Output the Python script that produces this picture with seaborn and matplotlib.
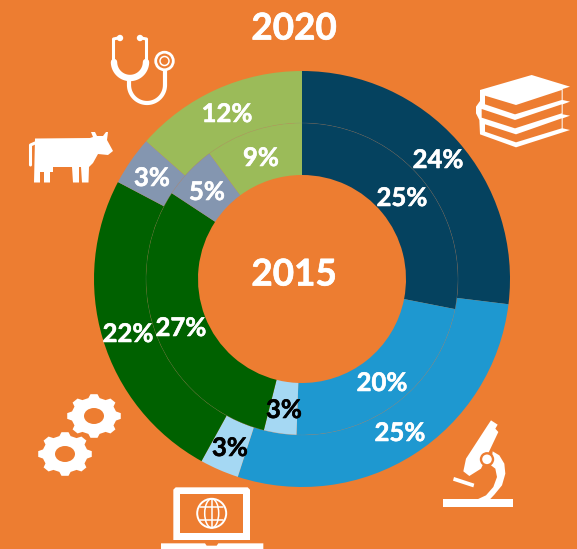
import numpy as np
import matplotlib
matplotlib.use('Agg')
import matplotlib.pyplot as plt
import matplotlib.patheffects as pe
from matplotlib.patches import Circle, Ellipse, Polygon
import seaborn as sns

# data
sectors = ['Education', 'Science', 'Internet', 'Industry', 'Agriculture', 'Health']
values_2015 = [25, 20, 3, 27, 5, 9]
values_2020 = [24, 25, 2.7, 22, 3.4, 12]
colors = sns.color_palette(['#05425F', '#1E98D0', '#A5D8F3', '#006100', '#8496B0', '#9BBB59'])
label_colors = ['white', 'white', 'black', 'white', 'white', 'white']

# label centres in picture pixels
pos_2015 = [(402, 198), (382, 383), (284, 410), (181, 328), (207, 192), (261, 158)]
pos_2020 = [(438, 160), (400, 433), (230, 448), (128, 334), (152, 178), (227, 114)]

W, H = 577, 549
ORANGE = '#ED7D31'
CX, CY = 302, 279

sns.set_theme(style='white')
plt.rcParams['font.family'] = ['Lato', 'DejaVu Sans']

fig = plt.figure(figsize=(W / 100, H / 100), dpi=100, facecolor=ORANGE)
ax = fig.add_axes([0, 0, 1, 1])
ax.set_facecolor(ORANGE)

# both rings
ax.pie(values_2020, colors=colors, radius=208, center=(CX, H - CY), startangle=90,
       counterclock=False, wedgeprops=dict(width=52, linewidth=0))
ax.pie(values_2015, colors=colors, radius=156, center=(CX, H - CY), startangle=90,
       counterclock=False, wedgeprops=dict(width=52, linewidth=0))
ax.add_patch(Circle((CX, H - CY), 156, fill=False, ec='#8a8a8a', lw=0.4, alpha=0.35))

ax.set_xlim(0, W)
ax.set_ylim(0, H)
ax.set_aspect('equal')
ax.axis('off')


def pt(x, y):
    return (x, H - y)


def poly(points, color='white', z=5):
    ax.add_patch(Polygon([pt(x, y) for x, y in points], closed=True, fc=color, ec='none', zorder=z))


def crop_poly(points, x0, y0, color='white', z=5):
    poly([(x0 + x / 3, y0 + y / 3) for x, y in points], color, z)


def line(points, lw=3.0, color='white', z=5, cap='round'):
    xs, ys = zip(*[pt(x, y) for x, y in points])
    ax.plot(xs, ys, color=color, lw=lw, solid_capstyle=cap, solid_joinstyle='round', zorder=z)


def arc(cx, cy, r, a0, a1, lw=3.0, color='white', z=5):
    # angles in degrees, y pointing up
    t = np.radians(np.linspace(a0, a1, 40))
    ax.plot(cx + r * np.cos(t), H - cy + r * np.sin(t), color=color, lw=lw,
            solid_capstyle='round', zorder=z)


def gear(cx, cy, rx, ry, teeth=8):
    pts = []
    for i in range(teeth):
        a = 2 * np.pi * i / teeth + np.pi / 2
        for da, k in [(-0.25, 0.84), (-0.13, 1.0), (0.13, 1.0), (0.25, 0.84)]:
            pts.append((cx + k * rx * np.cos(a + da), cy + k * ry * np.sin(a + da)))
    poly(pts)
    ax.add_patch(Ellipse(pt(cx, cy), 20, 16, fc=ORANGE, ec='none', zorder=6))


# stethoscope
line([(118, 38), (113.5, 39), (113.5, 62)], lw=2.2)
line([(141, 38), (146.5, 39), (146.5, 62)], lw=2.2)
ax.add_patch(Circle(pt(120, 38), 3.2, fc='white', ec='none', zorder=5))
ax.add_patch(Circle(pt(140, 38), 3.2, fc='white', ec='none', zorder=5))
arc(130, 62, 16, 180, 360, lw=4.6)
line([(129, 78), (129, 85)], lw=3)
arc(147, 85, 18, 180, 360, lw=3)
line([(165, 85), (165, 71)], lw=3)
ax.add_patch(Circle(pt(164.5, 61), 8.8, fc='none', ec='white', lw=2, zorder=5))
ax.add_patch(Circle(pt(164.5, 61), 4.5, fc='none', ec='white', lw=1.1, zorder=5))

# cow
poly([(35, 138.5), (90, 138), (93, 137), (91, 132), (95, 132), (97, 136), (103, 136),
      (106, 132), (108, 132), (107, 140), (113, 151), (108, 155), (98, 154),
      (93, 163), (89, 167), (88.5, 182.5), (82, 182.5), (81, 167), (79, 167), (79, 182.5),
      (73, 182.5), (72, 167), (53, 167), (53, 172), (50, 172), (50, 182.5), (44, 182.5),
      (44, 172), (40, 172), (40, 182.5), (34, 182.5)])
line([(35, 143), (30.5, 145), (30.5, 165)], lw=2.2)

# gears
gear(94, 416, 27, 22)
gear(65, 454, 27, 22)

# laptop
crop_poly([(62, 22), (278, 22), (285, 29), (285, 180), (55, 180), (55, 29)], 155, 480)
crop_poly([(75, 42), (265, 42), (265, 160), (75, 160)], 155, 480, ORANGE, 6)
crop_poly([(18, 190), (150, 190), (155, 197), (185, 197), (190, 190), (325, 190), (325, 210), (18, 210)], 155, 480)
ax.add_patch(Circle(pt(211.7, 513.3), 14.5, fc='none', ec='white', lw=1.4, zorder=7))
ax.add_patch(Ellipse(pt(211.7, 513.3), 14, 29, fc='none', ec='white', lw=1.1, zorder=7))
line([(211.7, 499), (211.7, 528)], lw=1.1, z=7)
line([(200, 507), (223, 507)], lw=1.1, z=7)
line([(200, 520), (223, 520)], lw=1.1, z=7)

# microscope
crop_poly([(22, 262), (232, 262), (232, 285), (22, 285)], 436, 412)
crop_poly([(54, 195), (115, 215), (112, 226), (51, 206)], 436, 412)
crop_poly([(155, 40), (165, 25), (185, 38), (178, 50), (187, 60), (135, 170), (100, 192),
           (82, 178), (90, 140)], 436, 412)
crop_poly([(170, 118), (190, 130), (205, 155), (208, 185), (198, 220), (175, 248), (160, 264),
           (120, 264), (150, 250), (172, 225), (183, 195), (178, 170), (165, 160)], 436, 412)
ax.add_patch(Circle(pt(487, 459.3), 7.2, fc=ORANGE, ec='none', zorder=6))
ax.add_patch(Circle(pt(487, 459.3), 4.8, fc='white', ec='none', zorder=7))

# books
crop_poly([(30, 75), (185, 30), (300, 65), (278, 72), (278, 105), (300, 110), (278, 118),
           (278, 148), (300, 152), (278, 160), (278, 190), (300, 195), (138, 247), (30, 208),
           (28, 165), (18, 145), (18, 125), (30, 108)], 470, 65)
crop_poly([(45, 92), (138, 120), (275, 75), (275, 105), (135, 148), (45, 118)], 470, 65, ORANGE, 6)
crop_poly([(35, 132), (135, 165), (275, 118), (275, 145), (135, 190), (35, 158)], 470, 65, ORANGE, 6)
crop_poly([(45, 178), (138, 208), (275, 160), (275, 190), (138, 232), (45, 200)], 470, 65, ORANGE, 6)

# text
for positions, values in [(pos_2015, values_2015), (pos_2020, values_2020)]:
    for (x, y), v, c in zip(positions, values, label_colors):
        ax.text(x, H - y, f'{v:.0f}%', color=c, fontsize=18.5, fontweight='bold', ha='center',
                va='center', zorder=8, path_effects=[pe.withStroke(linewidth=0.4, foreground=c)])
for (x, y), year in [((294, 29), '2020'), ((294, 275), '2015')]:
    ax.text(x, H - y, year, color='white', fontsize=26.5, fontweight='bold', ha='center',
            va='center', zorder=8, path_effects=[pe.withStroke(linewidth=0.5, foreground='white')])

fig.savefig('out.png', dpi=100, facecolor=ORANGE)
